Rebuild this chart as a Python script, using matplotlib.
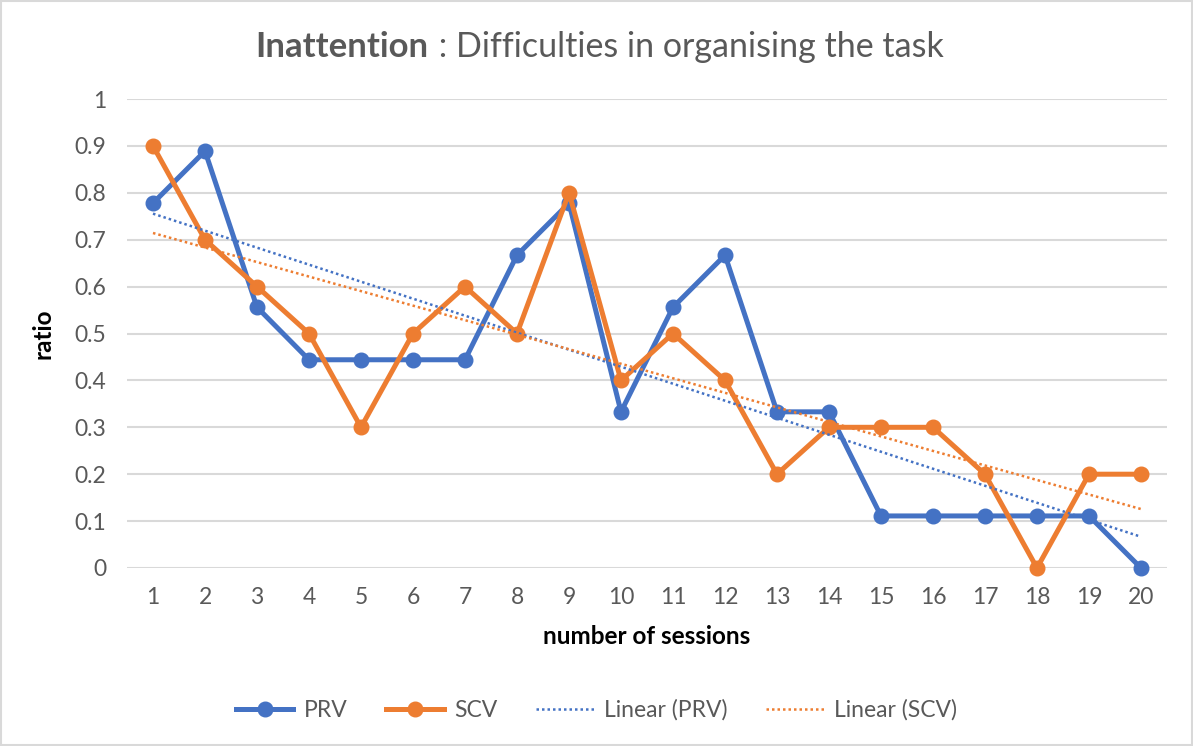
import numpy as np
import matplotlib
matplotlib.use('Agg')
import matplotlib.pyplot as plt

sessions = list(range(1, 21))
prv = [0.778, 0.889, 0.556, 0.444, 0.444, 0.444, 0.444, 0.667, 0.778, 0.333,
       0.556, 0.667, 0.333, 0.333, 0.111, 0.111, 0.111, 0.111, 0.111, 0.0]
scv = [0.9, 0.7, 0.6, 0.5, 0.3, 0.5, 0.6, 0.5, 0.8, 0.4,
       0.5, 0.4, 0.2, 0.3, 0.3, 0.3, 0.2, 0.0, 0.2, 0.2]
yticks = [0, 0.1, 0.2, 0.3, 0.4, 0.5, 0.6, 0.7, 0.8, 0.9, 1]
ytick_labels = ['0', '0.1', '0.2', '0.3', '0.4', '0.5', '0.6', '0.7', '0.8', '0.9', '1']

blue = '#4472C4'
orange = '#ED7D31'
grey = '#595959'

plt.rcParams['font.family'] = ['Lato', 'DejaVu Sans']

fig = plt.figure(figsize=(11.93, 7.46), dpi=100)
fig.patch.set_facecolor('white')
# light border around the chart
fig.add_artist(plt.Rectangle((0.001, 0.001), 0.998, 0.997, transform=fig.transFigure,
                             fill=False, edgecolor='#D9D9D9', linewidth=1.5))

ax = fig.add_axes([127 / 1193, 1 - 568 / 746, (1167 - 127) / 1193, (568 - 99) / 746])

x = np.array(sessions)
ax.plot(x, prv, color=blue, lw=3.6, marker='o', ms=10.5, label='PRV', clip_on=False, zorder=3)
ax.plot(x, scv, color=orange, lw=3.6, marker='o', ms=10.5, label='SCV', clip_on=False, zorder=4)

kp = np.polyfit(x, prv, 1)
ks = np.polyfit(x, scv, 1)
ax.plot(x, np.polyval(kp, x), color=blue, lw=1.8, ls=(0, (1, 1.2)), label='Linear (PRV)', zorder=5)
ax.plot(x, np.polyval(ks, x), color=orange, lw=1.8, ls=(0, (1, 1.2)), label='Linear (SCV)', zorder=5)

ax.set_xlim(0.5, 20.5)
ax.set_ylim(0, 1)
ax.set_xticks(sessions)
ax.set_xticklabels([str(s) for s in sessions])
ax.set_yticks(yticks)
ax.set_yticklabels(ytick_labels)
ax.tick_params(length=0, labelsize=16.5, colors=grey)
ax.tick_params(axis='y', pad=15)
ax.tick_params(axis='x', pad=14)
ax.grid(axis='y', color='#D9D9D9', lw=1.5)
ax.set_axisbelow(True)
for s in ax.spines.values():
    s.set_visible(False)

ax.set_xlabel('number of sessions', fontsize=17.5, fontweight='bold', color='black', labelpad=12)
ax.set_ylabel('ratio', fontsize=17.5, fontweight='bold', color='black', labelpad=14)

fig.text(428 / 1193, 1 - 47 / 746, 'Inattention', fontsize=25, fontweight='bold',
         color=grey, ha='right', va='center')
fig.text(430 / 1193, 1 - 47 / 746, ' : Difficulties in organising the task', fontsize=24.5,
         color=grey, ha='left', va='center')

fig.legend(loc='center', bbox_to_anchor=(0.5, 1 - 710 / 746), ncol=4, frameon=False,
           fontsize=16.5, handlelength=2.5, handletextpad=0.45, columnspacing=1.7,
           labelcolor=grey)

fig.savefig('out.png', dpi=100)
